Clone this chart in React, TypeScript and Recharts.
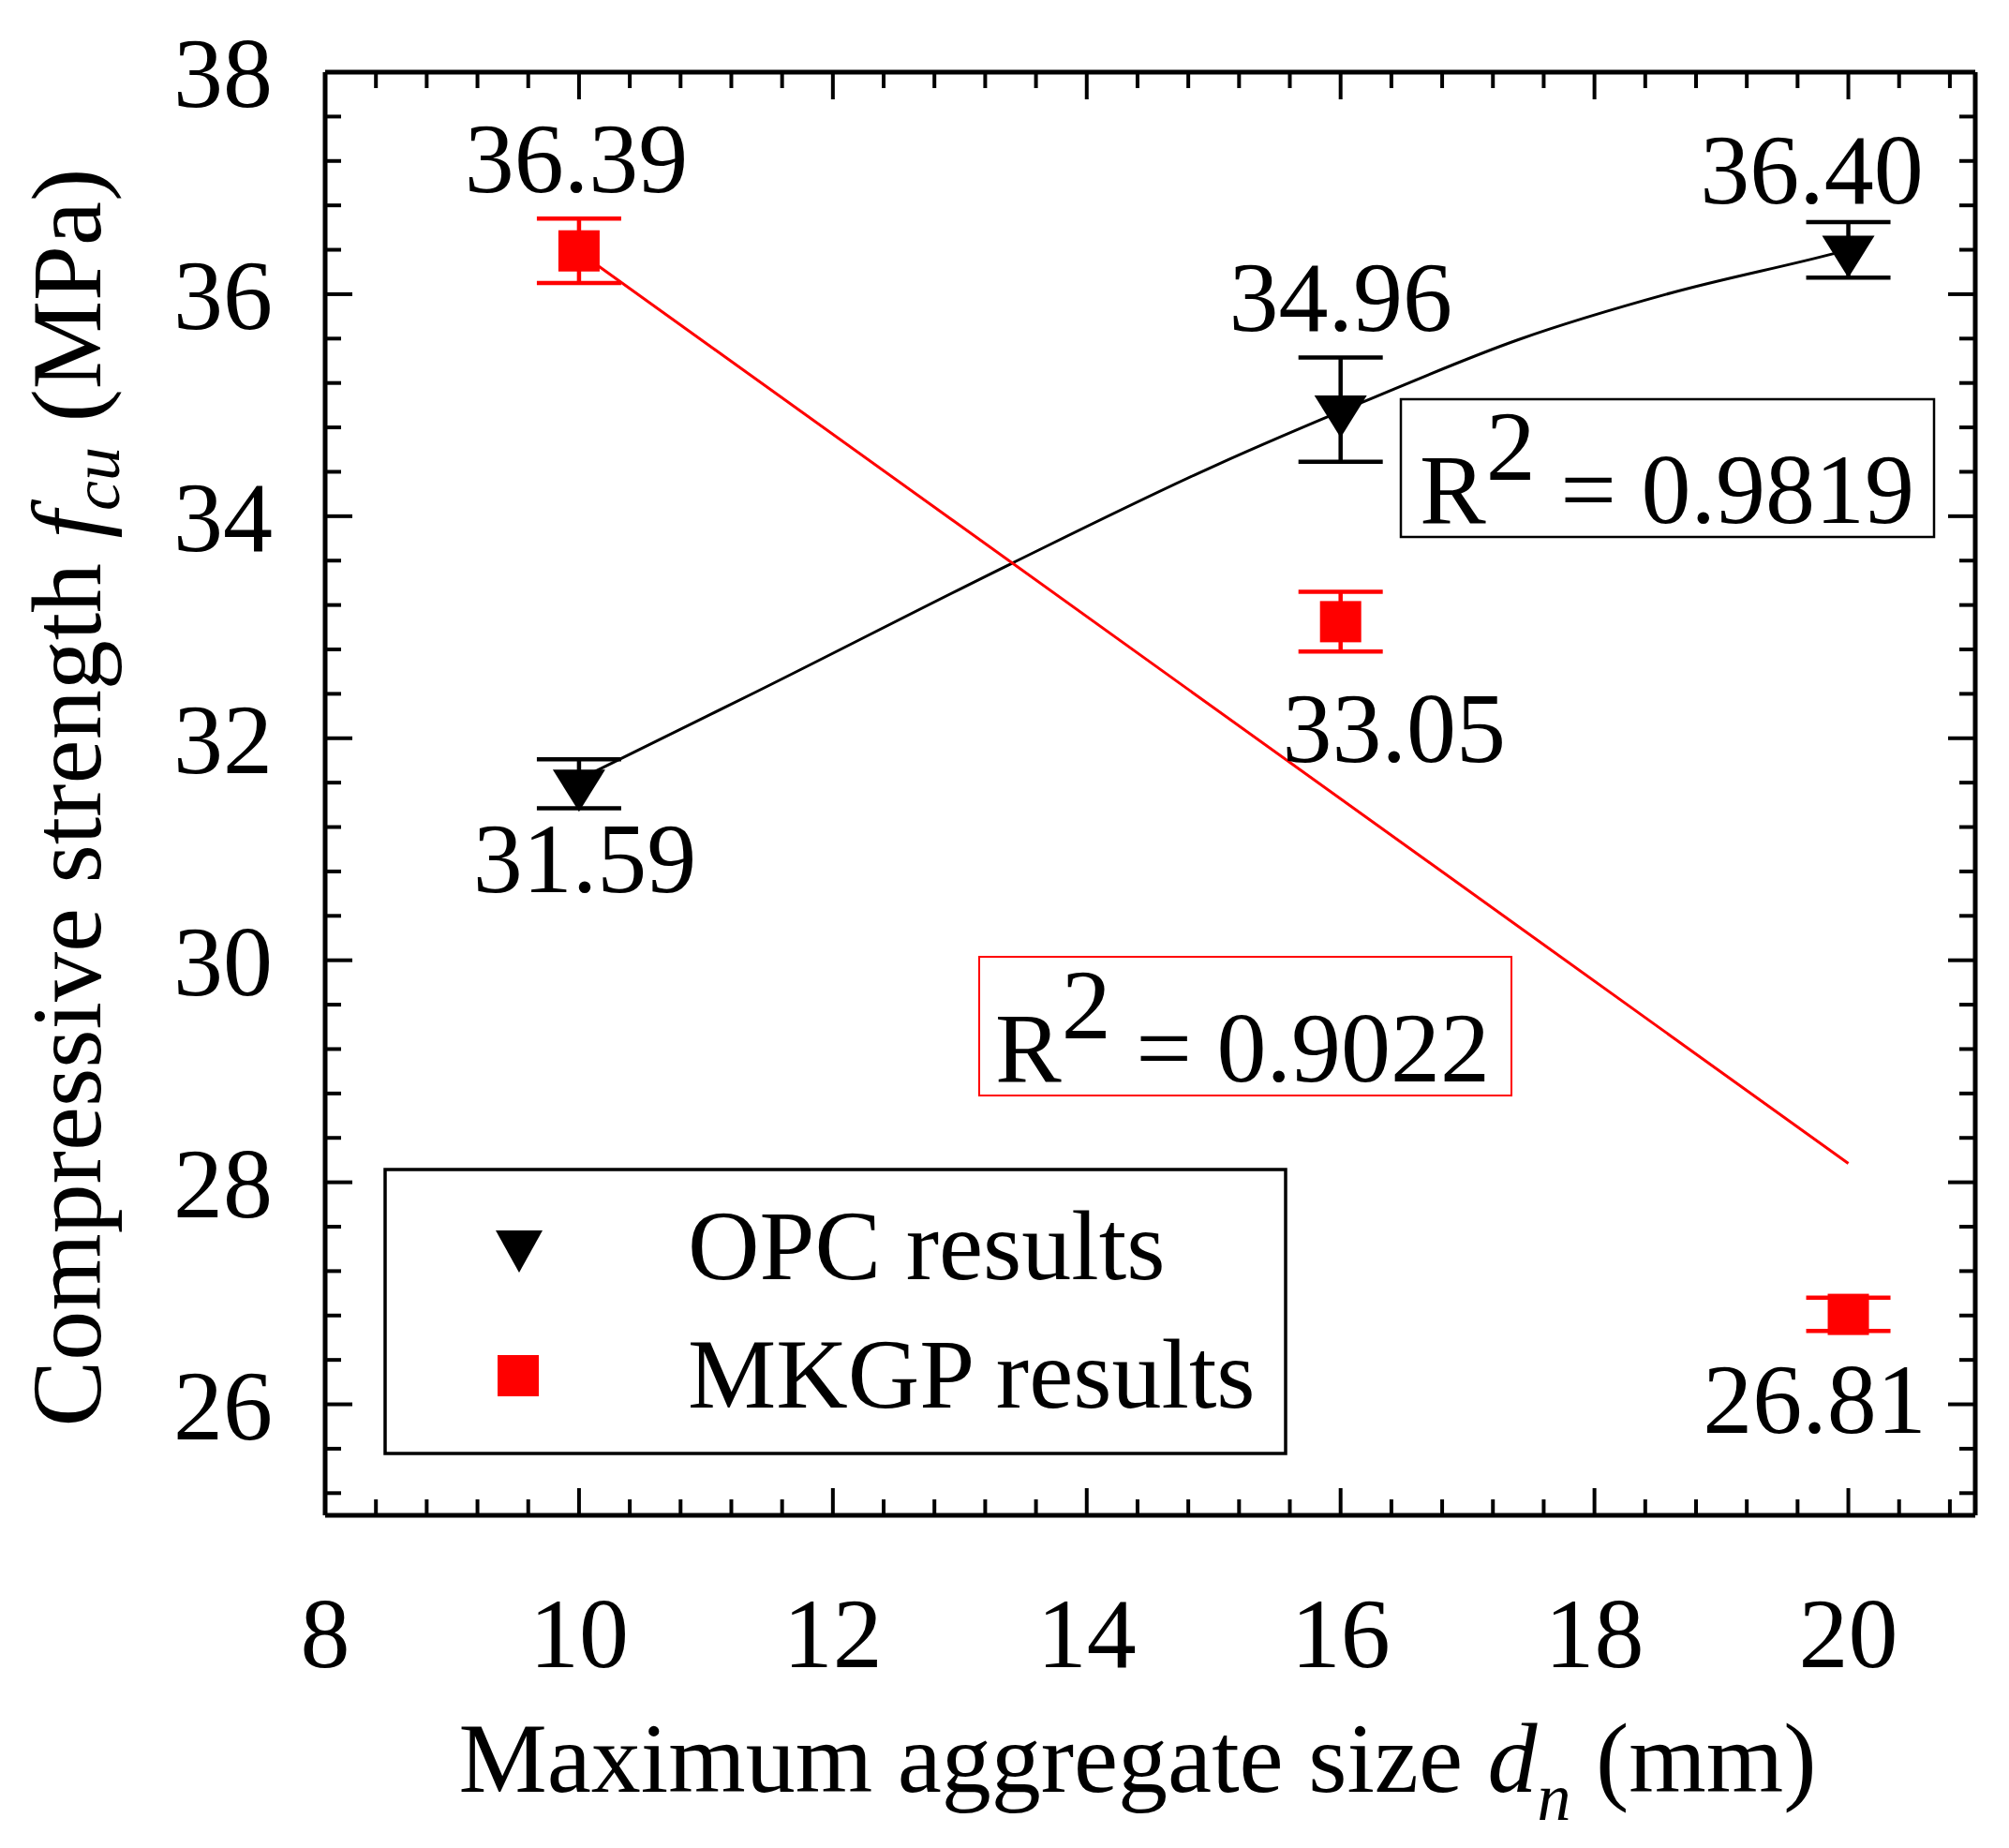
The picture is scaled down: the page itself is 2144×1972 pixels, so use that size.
import React from 'react'
import { ComposedChart, XAxis, YAxis, Scatter, Line, ErrorBar, LabelList } from 'recharts'

document.body.style.margin = '0'

// measured points
const sizes = [10, 16, 20]
const opcValues = [31.59, 34.96, 36.4]
const opcErrors = [0.22, 0.47, 0.25]
const mkgpValues = [36.39, 33.05, 26.81]
const mkgpErrors = [0.29, 0.27, 0.15]

// fitted curves
const opcFitX = [10, 11.4, 13.4, 15, 16.2, 17.4, 18.6, 19.9, 20]
const opcFitY = [31.63, 32.42, 33.57, 34.45, 35.04, 35.59, 36.01, 36.37, 36.4]
const mkgpFitX = [10, 20]
const mkgpFitY = [36.38, 28.17]

const xMajor = [8, 10, 12, 14, 16, 18, 20]
const yMajor = [26, 28, 30, 32, 34, 36, 38]

const opcR2 = '0.9819'
const mkgpR2 = '0.9022'

const W = 2144
const H = 1972
// axes are 1px thick boxes, so the plot spans x 347..2108, y 77..1617
const M = { top: 76, right: 35, bottom: 354, left: 346 }
const FONT = '"Liberation Serif", "Times New Roman", serif'
const FS = 106
const RED = '#ff0000'

const xTicks: number[] = []
for (let v = 8; v < 21; v += 0.4) xTicks.push(Math.round(v * 10) / 10)
const yTicks: number[] = []
for (let v = 25.2; v <= 38.01; v += 0.4) yTicks.push(Math.round(v * 10) / 10)

const opcData = sizes.map((x, i) => ({ x, y: opcValues[i], err: opcErrors[i] }))
const mkgpData = sizes.map((x, i) => ({ x, y: mkgpValues[i], err: mkgpErrors[i] }))
const opcFit = opcFitX.map((x, i) => ({ x, y: opcFitY[i] }))
const mkgpFit = mkgpFitX.map((x, i) => ({ x, y: mkgpFitY[i] }))

const isMajor = (v: number, majors: number[]) => majors.some((m) => Math.abs(m - v) < 1e-6)

function makeTick(side: 'bottom' | 'top' | 'left' | 'right') {
  return (props: any) => {
    const { x, y, payload } = props
    const v = payload.value
    const major = isMajor(v, side === 'bottom' || side === 'top' ? xMajor : yMajor)
    const len = major ? 29 : 17
    let x2 = x
    let y2 = y
    if (side === 'bottom') y2 = y - len
    if (side === 'top') y2 = y + len
    if (side === 'left') x2 = x + len
    if (side === 'right') x2 = x - len
    return (
      <g>
        <line x1={x} y1={y} x2={x2} y2={y2} stroke="#000" strokeWidth={4} />
        {major && side === 'bottom' && (
          <text x={x} y={y + 162} textAnchor="middle" fontFamily={FONT} fontSize={FS} fill="#000">
            {v}
          </text>
        )}
        {major && side === 'left' && (
          <text x={x - 56} y={y + 37} textAnchor="end" fontFamily={FONT} fontSize={FS} fill="#000">
            {v}
          </text>
        )}
      </g>
    )
  }
}

const Triangle = (props: any) => {
  const { cx, cy } = props
  return <polygon points={`${cx - 28},${cy - 15} ${cx + 28},${cy - 15} ${cx},${cy + 30}`} fill="#000" />
}

const Square = (props: any) => {
  const { cx, cy } = props
  return <rect x={cx - 22} y={cy - 22} width={44} height={44} fill={RED} />
}

// label placement around each point: [dx, baseline dy]
const opcLabelPos = [[6, 116], [0, -84], [-39, -50]]
const mkgpLabelPos = [[-3, -63], [57, 150], [-36, 126]]

const makeLabel = (pos: number[][]) => (props: any) => {
  const { x, y, width, height, value, index } = props
  const cx = x + (width || 0) / 2
  const cy = y + (height || 0) / 2
  const [dx, dy] = pos[index]
  return (
    <text x={cx + dx} y={cy + dy} textAnchor="middle" fontFamily={FONT} fontSize={FS} fill="#000">
      {Number(value).toFixed(2)}
    </text>
  )
}

const axisLine = { stroke: '#000', strokeWidth: 5 }

export default function App() {
  return (
    <div style={{ position: 'relative', width: W, height: H, background: '#fff' }}>
      <ComposedChart width={W} height={H} margin={M}>
        <XAxis
          xAxisId="b"
          type="number"
          dataKey="x"
          domain={[8, 21]}
          ticks={xTicks}
          interval={0}
          allowDataOverflow
          height={1}
          tickSize={0}
          tickMargin={0}
          tickLine={false}
          axisLine={axisLine}
          tick={makeTick('bottom')}
        />
        <XAxis
          xAxisId="t"
          orientation="top"
          type="number"
          dataKey="x"
          domain={[8, 21]}
          ticks={xTicks}
          interval={0}
          allowDataOverflow
          height={1}
          tickSize={0}
          tickMargin={0}
          tickLine={false}
          axisLine={axisLine}
          tick={makeTick('top')}
        />
        <YAxis
          yAxisId="l"
          type="number"
          dataKey="y"
          domain={[25, 38]}
          ticks={yTicks}
          interval={0}
          allowDataOverflow
          width={1}
          tickSize={0}
          tickMargin={0}
          tickLine={false}
          axisLine={axisLine}
          tick={makeTick('left')}
        />
        <YAxis
          yAxisId="r"
          orientation="right"
          type="number"
          dataKey="y"
          domain={[25, 38]}
          ticks={yTicks}
          interval={0}
          allowDataOverflow
          width={1}
          tickSize={0}
          tickMargin={0}
          tickLine={false}
          axisLine={axisLine}
          tick={makeTick('right')}
        />
        <Line
          xAxisId="b"
          yAxisId="l"
          data={opcFit}
          dataKey="y"
          type="monotone"
          stroke="#000"
          strokeWidth={3}
          dot={false}
          activeDot={false}
          isAnimationActive={false}
        />
        <Line
          xAxisId="b"
          yAxisId="l"
          data={mkgpFit}
          dataKey="y"
          type="linear"
          stroke={RED}
          strokeWidth={3}
          dot={false}
          activeDot={false}
          isAnimationActive={false}
        />
        <Scatter xAxisId="b" yAxisId="l" data={opcData} dataKey="y" shape={Triangle} isAnimationActive={false}>
          <ErrorBar dataKey="err" direction="y" width={45} stroke="#000" strokeWidth={4.5} isAnimationActive={false} />
          <LabelList dataKey="y" content={makeLabel(opcLabelPos)} />
        </Scatter>
        <Scatter xAxisId="b" yAxisId="l" data={mkgpData} dataKey="y" shape={Square} isAnimationActive={false}>
          <ErrorBar dataKey="err" direction="y" width={45} stroke={RED} strokeWidth={4.5} isAnimationActive={false} />
          <LabelList dataKey="y" content={makeLabel(mkgpLabelPos)} />
        </Scatter>
      </ComposedChart>

      <svg
        width={W}
        height={H}
        style={{ position: 'absolute', left: 0, top: 0, pointerEvents: 'none' }}
        fontFamily={FONT}
        fontSize={FS}
      >
        {/* axis titles */}
        <text transform="translate(107,851) rotate(-90)" textAnchor="middle" fill="#000">
          Compressive strength <tspan fontStyle="italic">f</tspan>
          <tspan fontStyle="italic" fontSize={72} dy={20}>cu</tspan>
          <tspan dy={-20}> (MPa)</tspan>
        </text>
        <text x={1214} y={1912} textAnchor="middle" fill="#000">
          Maximum aggregate size <tspan fontStyle="italic">d</tspan>
          <tspan fontStyle="italic" fontSize={72} dy={30}>n</tspan>
          <tspan dy={-30}> (mm)</tspan>
        </text>

        {/* R² boxes */}
        <rect x={1495} y={426} width={569} height={147} fill="#fff" stroke="#000" strokeWidth={2.5} />
        <text x={1515} y={558} fill="#000">
          R<tspan dy={-46}>2</tspan>
          <tspan dy={46}> = {opcR2}</tspan>
        </text>
        <rect x={1045} y={1021} width={568} height={148} fill="none" stroke={RED} strokeWidth={2} />
        <text x={1062} y={1154} fill="#000">
          R<tspan dy={-46}>2</tspan>
          <tspan dy={46}> = {mkgpR2}</tspan>
        </text>

        {/* legend */}
        <rect x={411} y={1248} width={961} height={303} fill="#fff" stroke="#000" strokeWidth={3.5} />
        <polygon points="529,1313 579,1313 554,1358" fill="#000" />
        <text x={734} y={1365} fill="#000">OPC results</text>
        <rect x={531} y={1446} width={44} height={44} fill={RED} />
        <text x={734} y={1502} fill="#000">MKGP results</text>
      </svg>
    </div>
  )
}
